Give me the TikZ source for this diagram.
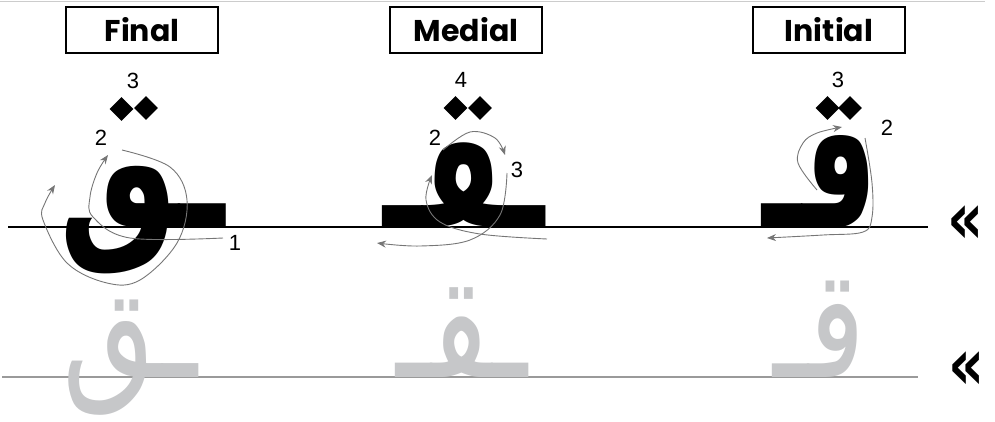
\documentclass[tikz,border=0pt]{standalone}
\usepackage{fontspec}
\usepackage{graphicx}
\setmainfont{Liberation Sans}
\newfontfamily\arabicfont[Script=Arabic]{DejaVu Sans}
\newfontfamily\labelfont{Poppins}
\newfontfamily\symfont{DejaVu Sans}
\TeXXeTstate=1
\usetikzlibrary{arrows.meta,shapes.geometric}
\definecolor{arrowgray}{HTML}{767676}
\definecolor{glyphgray}{HTML}{C6C7C9}
\definecolor{linegray}{HTML}{9A9A9A}
\tikzset{
  formbox/.style={draw, line width=1.3pt, minimum width=152pt, minimum height=46pt, inner sep=0pt,
    font=\labelfont\bfseries\fontsize{30}{30}\selectfont},
  strokearrow/.style={draw=arrowgray, line width=0.9pt, -{Stealth[length=9pt,width=7pt]}},
  num/.style={inner sep=0pt, font=\fontsize{22}{22}\selectfont},
  blackglyph/.style={anchor=base, inner sep=0pt, font=\arabicfont\bfseries\fontsize{100}{100}\selectfont},
  grayglyph/.style={anchor=base, inner sep=0pt, text=glyphgray, font=\arabicfont\fontsize{100}{100}\selectfont},
  dotmark/.style={diamond, fill=black, inner sep=0pt, minimum width=24pt, minimum height=24pt},
  guill/.style={inner sep=0pt, font=\symfont\bfseries\fontsize{56}{56}\selectfont},
}
\begin{document}
\begin{tikzpicture}[x=1pt,y=-1pt]
\useasboundingbox (0,0) rectangle (995,421);
\draw[black!20, line width=1pt] (0,1) -- (985,1);
% baselines
\coordinate (bl1) at (8,227); \coordinate (bl2) at (928,227);
\draw[line width=2.2pt] (bl1) -- (bl2);
\coordinate (gl1) at (2,377); \coordinate (gl2) at (918,377);
\draw[linegray, line width=2pt] (gl1) -- (gl2);
% boxes
\node[formbox] (bfinal) at (142,30) {Final};
\node[formbox] (bmedial) at (466,30) {Medial};
\node[formbox] (binitial) at (829,30) {Initial};
% black glyphs (dotless qaf bodies) and diamond dots
\node[blackglyph] (gfinal) at (142,227) {\smash{\scalebox{1.33}[1.9]{\beginR ـٯ\endR}}};
\node[blackglyph] (gmedial) at (464,227) {\smash{\scalebox{1.15}[1.75]{\beginR ـٯـ\endR}}};
\node[blackglyph] (ginitial) at (820,227) {\smash{\scalebox{1.15}[1.9]{\beginR ٯـ\endR}}};
\node[dotmark] (fd1) at (121.5,109) {};
\node[dotmark] (fd2) at (146,108) {};
\node[dotmark] (md1) at (455.5,108) {};
\node[dotmark] (md2) at (480,108) {};
\node[dotmark] (id1) at (827.5,108) {};
\node[dotmark] (id2) at (850,108) {};
% gray glyphs
\node[grayglyph] (hfinal) at (130,377) {\smash{\scalebox{1.2}[1.55]{\beginR ـق\endR}}};
\node[grayglyph] (hmedial) at (462,377) {\smash{\scalebox{1.2}[1.6]{\beginR ـقـ\endR}}};
\node[grayglyph] (hinitial) at (820,377) {\smash{\scalebox{1.2}[1.52]{\beginR قـ\endR}}};
% guillemets
\node[guill] (q1) at (966,225) {\scalebox{1}[1.3]{«}};
\node[guill] (q2) at (967,371) {\scalebox{1}[1.3]{«}};
% numbers
\node[num] (f3) at (133,81) {3};
\node[num] (f2) at (101,138) {2};
\node[num] (f1) at (235,243) {1};
\node[num] (m4) at (461,80) {4};
\node[num] (m2) at (435,138) {2};
\node[num] (m3) at (517,170) {3};
\node[num] (i3) at (838,80) {3};
\node[num] (i2) at (887,128) {2};
% stroke arrows: final
\draw[strokearrow] plot[smooth, tension=0.6] coordinates {(223,238) (130,238) (93,217) (90,197) (97,173) (108,155)};
\draw[strokearrow] plot[smooth, tension=0.6] coordinates {(122,150) (170,167) (187,200) (177,243) (140,280) (107,283) (67,263) (43,220) (45,203) (55,185)};
% medial
\draw[strokearrow] plot[smooth, tension=0.6] coordinates {(547,239) (480,234) (440,222) (426,200) (432,175)};
\draw[strokearrow] plot[smooth, tension=0.6] coordinates {(443,150) (470,132) (495,138) (505,155)};
\draw[strokearrow] plot[smooth, tension=0.6] coordinates {(507,173) (500,215) (470,240) (420,246) (377,243)};
% initial
\draw[strokearrow] plot[smooth, tension=0.6] coordinates {(817,190) (798,163) (803,143) (817,133) (842,127)};
\draw[strokearrow] plot[smooth, tension=0.6] coordinates {(865,138) (872,183) (872,217) (863,232) (823,235) (767,238)};
\end{tikzpicture}
\end{document}
